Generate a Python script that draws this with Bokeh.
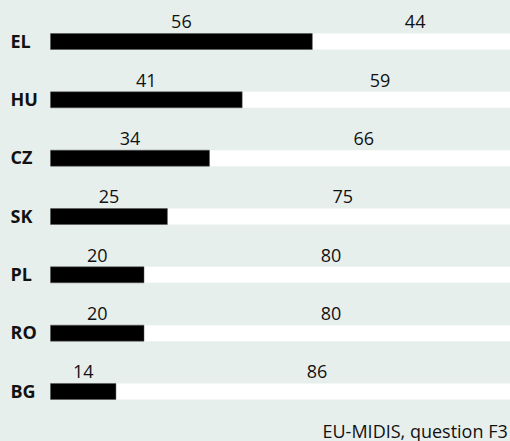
from bokeh.plotting import figure
from bokeh.models import ColumnDataSource, Range1d
from bokeh.core.properties import value
from bokeh.embed import file_html
from bokeh.resources import INLINE

countries = ["EL", "HU", "CZ", "SK", "PL", "RO", "BG"]
yes_vals = [56, 41, 34, 25, 20, 20, 14]
no_vals = [44, 59, 66, 75, 80, 80, 86]
source_note = "EU-MIDIS, question F3"

BG = "#e7efed"
W, H = 510, 441
PX_PER_UNIT = 4.675
X0_PX = 50
ROW_PX = 58.33
ROW0_PX = 41
SHIFT = 8  # text baseline correction in px

x_start = -X0_PX / PX_PER_UNIT
x_end = (W - X0_PX) / PX_PER_UNIT
y_top = -ROW0_PX / ROW_PX
y_bot = (H - ROW0_PX) / ROW_PX

p = figure(width=W, height=H, output_backend="svg", toolbar_location=None,
           x_range=Range1d(x_start, x_end), y_range=Range1d(y_bot, y_top),
           min_border=0, background_fill_color=BG, border_fill_color=BG,
           outline_line_color=None)
p.axis.visible = False
p.grid.visible = False

idx = list(range(len(countries)))
bar_h = 16 / ROW_PX
src = ColumnDataSource(dict(
    y=idx,
    yes=yes_vals,
    no=no_vals,
    total=[a + b for a, b in zip(yes_vals, no_vals)],
    yes_mid=[a / 2 for a in yes_vals],
    no_mid=[a + b / 2 for a, b in zip(yes_vals, no_vals)],
    yes_lbl=[str(v) for v in yes_vals],
    no_lbl=[str(v) for v in no_vals],
    lbl_y=[i - (11.7 + SHIFT) / ROW_PX for i in idx],
    cty_y=[i + (7.3 - SHIFT) / ROW_PX for i in idx],
    cty=countries,
    cty_x=[(10 - X0_PX) / PX_PER_UNIT] * len(countries),
))

p.hbar(y="y", left="yes", right="total", height=bar_h, source=src,
       fill_color="#ffffff", line_color=None)
p.hbar(y="y", left=0, right="yes", height=bar_h, source=src,
       fill_color="#000000", line_color="#555555", line_width=0.5)

font = value("Open Sans")
p.text(x="yes_mid", y="lbl_y", text="yes_lbl", source=src, text_font=font,
       text_font_size="18px", text_align="center", text_baseline="alphabetic",
       text_color="#111111")
p.text(x="no_mid", y="lbl_y", text="no_lbl", source=src, text_font=font,
       text_font_size="18px", text_align="center", text_baseline="alphabetic",
       text_color="#111111")
p.text(x="cty_x", y="cty_y", text="cty", source=src, text_font=font,
       text_font_size="18px", text_font_style="bold", text_align="left",
       text_baseline="alphabetic", text_color="#111111")

note_src = ColumnDataSource(dict(x=[(322 - X0_PX) / PX_PER_UNIT],
                                 y=[(438 - SHIFT - ROW0_PX) / ROW_PX],
                                 t=[source_note]))
p.text(x="x", y="y", text="t", source=note_src, text_font=font,
       text_font_size="18px", text_align="left", text_baseline="alphabetic",
       text_color="#111111")

html = file_html(p, INLINE)
html = html.replace("<head>", "<head><style>html,body{margin:0;padding:0;background:%s;overflow:hidden}</style>" % BG, 1)
open("out.html", "w").write(html)
